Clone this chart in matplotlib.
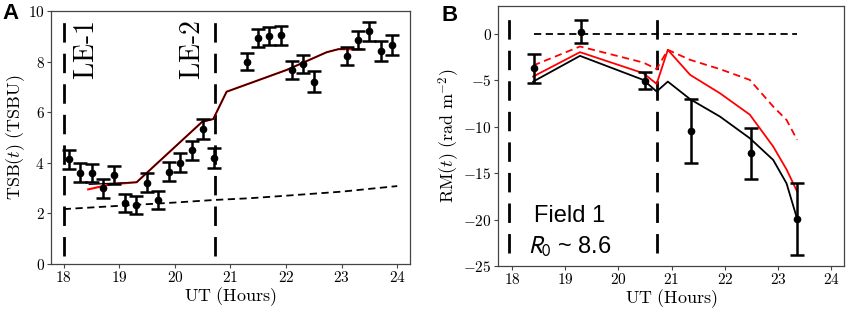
import matplotlib
matplotlib.use("Agg")
import matplotlib.pyplot as plt
from matplotlib.ticker import FuncFormatter

plt.rcParams["mathtext.fontset"] = "cm"
plt.rcParams["font.family"] = ["DejaVu Serif"]

# ---- panel A: total solar brightness ----
tsb_t = [18.1, 18.3, 18.5, 18.7, 18.9, 19.1, 19.3, 19.5, 19.7, 19.9, 20.1, 20.3, 20.5, 20.7,
         21.3, 21.5, 21.7, 21.9, 22.1, 22.3, 22.5, 23.1, 23.3, 23.5, 23.7, 23.9]
tsb_val = [4.14, 3.61, 3.60, 2.99, 3.52, 2.42, 2.33, 3.21, 2.53, 3.65, 4.00, 4.50, 5.34, 4.20,
           8.00, 8.92, 9.01, 9.04, 7.67, 7.90, 7.21, 8.22, 8.85, 9.20, 8.43, 8.66]
tsb_err = [0.38, 0.37, 0.37, 0.37, 0.37, 0.35, 0.35, 0.37, 0.37, 0.38, 0.37, 0.37, 0.40, 0.40,
           0.33, 0.35, 0.37, 0.37, 0.37, 0.37, 0.40, 0.37, 0.37, 0.38, 0.40, 0.38]

fit_red_t = [18.44, 18.85, 19.31, 20.49, 20.69, 20.93, 22.01, 22.73, 22.94, 23.36]
fit_red_v = [2.95, 3.15, 3.23, 5.62, 5.73, 6.81, 7.67, 8.37, 8.49, 8.49]
fit_blk_t = [18.46, 19.31, 20.49, 20.69, 20.93, 22.01, 22.73, 22.94, 23.05]
fit_blk_v = [3.15, 3.23, 5.62, 5.73, 6.81, 7.67, 8.37, 8.49, 8.50]

bg_t = [18.0, 19.0, 20.0, 20.7, 21.35, 22.0, 23.0, 24.0]
bg_v = [2.17, 2.30, 2.43, 2.53, 2.60, 2.70, 2.86, 3.08]

le_times = [18.0, 20.72]
le_labels = ["LE-1", "LE-2"]
le_text_t = [18.41, 20.31]

# ---- panel B: rotation measure ----
rm_t = [18.42, 19.29, 20.50, 21.36, 22.49, 23.36]
rm_val = [-3.70, 0.25, -5.03, -10.42, -12.86, -19.94]
rm_err = [1.55, 1.25, 0.95, 3.45, 2.73, 3.90]

mod_t = [18.40, 19.28, 20.47, 20.72, 20.93, 21.35, 21.91, 22.47, 22.91, 23.16, 23.36]
mod_black = [-5.14, -2.37, -4.96, -6.21, -5.14, -7.04, -8.91, -11.24, -13.58, -16.10, -19.94]
mod_red = [-4.60, -1.97, -4.24, -5.39, -1.72, -4.42, -6.40, -8.70, -12.14, -14.60, -16.99]
mod_red_dash = [-3.41, -1.36, -3.09, -3.80, -1.72, -2.80, -3.80, -4.96, -7.83, -9.27, -11.42]

fig = plt.figure(figsize=(8.51, 3.09), dpi=100)
axA = fig.add_axes([0.0599, 0.1456, 0.4219, 0.8188])
axB = fig.add_axes([0.5852, 0.1392, 0.4066, 0.8414])

math_fmt = FuncFormatter(lambda x, pos: f"${x:g}$")
for ax in (axA, axB):
    for sp in ax.spines.values():
        sp.set_color("#444444")
        sp.set_linewidth(0.9)
    ax.tick_params(direction="out", length=3, width=0.8, pad=1.5, labelsize=11, color="#444444")
    ax.xaxis.set_major_formatter(math_fmt)
    ax.yaxis.set_major_formatter(math_fmt)

# panel A
for t in le_times:
    axA.plot([t, t], [0.3, 9.95], color="black", lw=2, dashes=(7, 4))
axA.plot(bg_t, bg_v, color="black", lw=1.3, dashes=(4, 2.5))
axA.plot(fit_red_t, fit_red_v, color="red", lw=1.5)
axA.plot(fit_blk_t, fit_blk_v, color="#200000", lw=1.0)
axA.errorbar(tsb_t, tsb_val, yerr=tsb_err, fmt="o", color="black", ms=4.5,
             elinewidth=1.8, capsize=5, capthick=1.8)
for t, lab in zip(le_text_t, le_labels):
    axA.text(t, 8.45, r"$\text{" + lab + "}$", rotation=90, fontsize=20,
             ha="center", va="center")
axA.set_xlim(17.77, 24.23)
axA.set_ylim(0, 10)
axA.set_xticks([18, 19, 20, 21, 22, 23, 24])
axA.set_yticks([0, 2, 4, 6, 8, 10])
axA.set_xlabel(r"$\mathrm{UT\ (Hours)}$", fontsize=13, labelpad=0)
axA.set_ylabel(r"$\mathrm{TSB}(t)\ \mathrm{(TSBU)}$", fontsize=13, labelpad=1)

# panel B
for t in [17.95, 20.72]:
    axB.plot([t, t], [-23.6, 2.5], color="black", lw=2, dashes=(7, 4))
axB.plot([18.42, 23.35], [0, 0], color="black", lw=1.3, dashes=(4, 2.5))
axB.plot(mod_t, mod_red_dash, color="red", lw=1.3, dashes=(4, 2.5))
axB.plot(mod_t, mod_red, color="red", lw=1.3)
axB.plot(mod_t, mod_black, color="black", lw=1.3)
axB.errorbar(rm_t, rm_val, yerr=rm_err, fmt="o", color="black", ms=4.5,
             elinewidth=1.8, capsize=5, capthick=1.8)
axB.text(19.08, -19.6, "Field 1", fontsize=17, family="Liberation Sans",
         ha="center", va="center")
axB.text(19.08, -22.9, r"$R_{\mathit{0}}$ ~ 8.6", fontsize=17, family="Liberation Sans",
         math_fontfamily="stixsans", ha="center", va="center")
axB.set_xlim(17.74, 24.24)
axB.set_ylim(-25, 3)
axB.set_xticks([18, 19, 20, 21, 22, 23, 24])
axB.set_yticks([0, -5, -10, -15, -20, -25])
axB.set_xlabel(r"$\mathrm{UT\ (Hours)}$", fontsize=13, labelpad=0)
axB.set_ylabel(r"$\mathrm{RM}(t)\ (\mathrm{rad\ m}^{-2})$", fontsize=13, labelpad=1)

fig.text(0.003, 0.99, "A", fontsize=16, fontweight="bold", family="Liberation Sans", va="top")
fig.text(0.519, 0.985, "B", fontsize=16, fontweight="bold", family="Liberation Sans", va="top")

fig.savefig("out.png", dpi=100)
